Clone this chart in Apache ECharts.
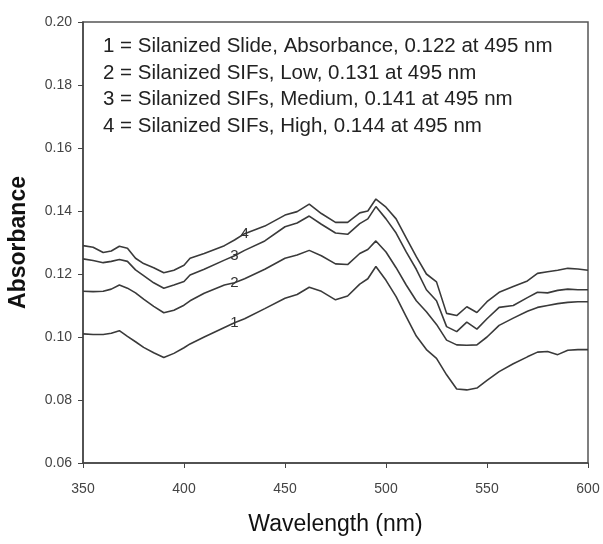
<!DOCTYPE html>
<html>
<head>
<meta charset="utf-8">
<script src="https://cdn.jsdelivr.net/npm/echarts@6/dist/echarts.min.js"></script>
<style>
  html, body { margin: 0; padding: 0; background: #fff; }
  #chart { width: 603px; height: 544px; }
</style>
</head>
<body>
<div id="chart"></div>
<script>
// wavelengths (nm) shared by all four spectra
var waves = [350,355,360,364,368,372,376,380,385,390,395,400,403,410,420,425,430,440,450,456,
             462,468,475,481,487,491,495,500,505,510,515,520,525,530,535,540,545,550,556,563,
             570,575,580,585,590,595,600];

// 1 = silanized slide
var absSlide = [0.1010,0.1008,0.1008,0.1012,0.1020,0.1002,0.0985,0.0967,0.0950,0.0935,0.0948,0.0966,0.0978,0.1000,0.1030,0.1045,0.1058,0.1090,0.1123,0.1135,
                0.1158,0.1145,0.1118,0.1130,0.1168,0.1185,0.1224,0.1180,0.1128,0.1065,0.1003,0.0960,0.0932,0.0880,0.0835,0.0832,0.0838,0.0862,0.0890,0.0915,
                0.0937,0.0952,0.0954,0.0944,0.0958,0.0960,0.0960];
// 2 = SIFs low
var absLow = [0.1145,0.1144,0.1145,0.1152,0.1165,0.1155,0.1140,0.1120,0.1097,0.1077,0.1085,0.1101,0.1115,0.1139,0.1165,0.1172,0.1185,0.1215,0.1250,0.1260,
              0.1275,0.1258,0.1232,0.1230,0.1265,0.1278,0.1305,0.1270,0.1220,0.1165,0.1115,0.1080,0.1040,0.0990,0.0975,0.0974,0.0975,0.1000,0.1037,0.1060,
              0.1082,0.1094,0.1100,0.1106,0.1110,0.1112,0.1112];
// 3 = SIFs medium
var absMed = [0.1248,0.1243,0.1236,0.1240,0.1246,0.1240,0.1213,0.1195,0.1172,0.1155,0.1165,0.1176,0.1197,0.1215,0.1244,0.1258,0.1275,0.1305,0.1350,0.1362,
              0.1384,0.1358,0.1330,0.1326,0.1360,0.1375,0.1414,0.1375,0.1330,0.1270,0.1215,0.1150,0.1115,0.1033,0.1017,0.1047,0.1025,0.1058,0.1094,0.1100,
              0.1125,0.1142,0.1140,0.1148,0.1152,0.1150,0.1150];
// 4 = SIFs high
var absHigh = [0.1290,0.1285,0.1268,0.1273,0.1288,0.1282,0.1250,0.1233,0.1220,0.1204,0.1212,0.1228,0.1250,0.1265,0.1290,0.1308,0.1328,0.1352,0.1387,0.1398,
               0.1422,0.1392,0.1364,0.1364,0.1394,0.1400,0.1438,0.1412,0.1375,0.1315,0.1255,0.1200,0.1175,0.1075,0.1068,0.1096,0.1078,0.1112,0.1142,0.1160,
               0.1178,0.1202,0.1207,0.1212,0.1218,0.1216,0.1212];

var curveTags = ['1', '2', '3', '4'];
var tagAt = [425, 425, 425, 430];   // wavelength where each curve number sits

var legendLines = [
  '1 = Silanized Slide, Absorbance, 0.122 at 495 nm',
  '2 = Silanized SIFs, Low, 0.131 at 495 nm',
  '3 = Silanized SIFs, Medium, 0.141 at 495 nm',
  '4 = Silanized SIFs, High, 0.144 at 495 nm'
];

var chart = echarts.init(document.getElementById('chart'));

function makeSeries(vals, i) {
  var pts = [];
  for (var k = 0; k < waves.length; k++) {
    var p = { value: [waves[k], vals[k]] };
    if (waves[k] === tagAt[i]) {
      p.label = { show: true, formatter: curveTags[i], position: 'inside',
                  color: '#333', fontSize: 15, fontFamily: 'Liberation Sans' };
    }
    pts.push(p);
  }
  return {
    type: 'line', data: pts, showSymbol: true, showAllSymbol: true,
    symbol: 'circle', symbolSize: 0,
    lineStyle: { color: '#3a3a3a', width: 1.6 },
    animation: false, silent: true
  };
}

var graphics = [];
for (var j = 0; j < legendLines.length; j++) {
  graphics.push({
    type: 'text', left: 103, top: 36 + j * 26.5,
    style: { text: legendLines[j], fill: '#222', fontSize: 20.5, fontFamily: 'Liberation Sans' }
  });
}

chart.setOption({
  backgroundColor: '#fff',
  grid: { left: 83, right: 15, top: 22, bottom: 81, outerBoundsMode: 'none', containLabel: false,
          show: true, borderColor: '#555', borderWidth: 1.5 },
  xAxis: {
    type: 'value', min: 350, max: 600, interval: 50,
    name: 'Wavelength (nm)', nameLocation: 'middle', nameGap: 50,
    nameTextStyle: { fontSize: 23, color: '#111', fontFamily: 'Liberation Sans' },
    axisLine: { lineStyle: { color: '#444', width: 1.5 } },
    axisTick: { length: 5, lineStyle: { color: '#444' } },
    axisLabel: { color: '#444', fontSize: 14, margin: 19, fontFamily: 'Liberation Sans' },
    splitLine: { show: false }
  },
  yAxis: {
    type: 'value', min: 0.06, max: 0.20, interval: 0.02,
    name: 'Absorbance', nameLocation: 'middle', nameGap: 53,
    nameTextStyle: { fontSize: 23, fontWeight: 'bold', color: '#111', fontFamily: 'Liberation Sans' },
    axisLine: { show: true, lineStyle: { color: '#444', width: 1.5 } },
    axisTick: { show: true, length: 5, lineStyle: { color: '#444' } },
    axisLabel: { color: '#444', fontSize: 14, margin: 11, fontFamily: 'Liberation Sans',
                 formatter: function (v) { return v.toFixed(2); } },
    splitLine: { show: false }
  },
  graphic: graphics,
  series: [makeSeries(absSlide, 0), makeSeries(absLow, 1), makeSeries(absMed, 2), makeSeries(absHigh, 3)]
});
</script>
</body>
</html>
